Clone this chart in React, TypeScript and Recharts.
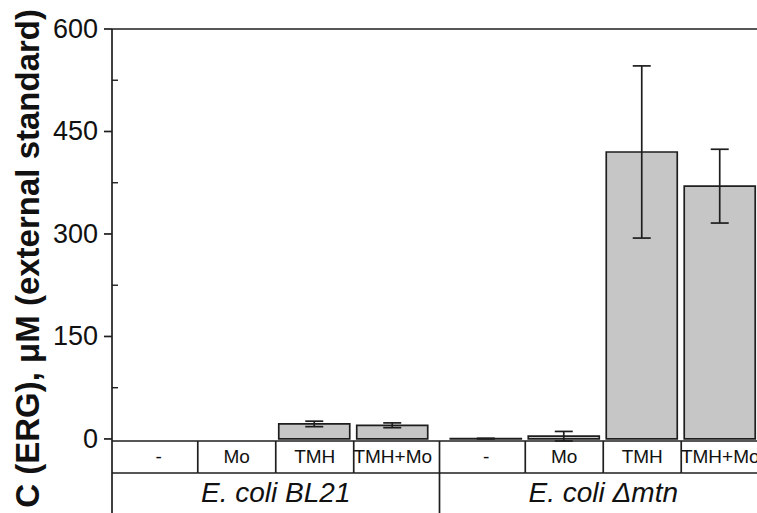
import { BarChart, Bar, XAxis, YAxis, ErrorBar, ReferenceLine } from 'recharts'

const treatments = ['-', 'Mo', 'TMH', 'TMH+Mo']
const strains = ['E. coli BL21', 'E. coli Δmtn']
const ergBL21 = [0, 0, 22, 20]
const errBL21 = [0, 0, 4, 3.5]
const ergMtn = [0.5, 4, 420, 370]
const errMtn = [0.5, 7, 126, 54]
const majorTicks = [0, 150, 300, 450, 600]
const minorTicks = [75, 225, 375, 525]
const yLabel = 'C (ERG), μM (external standard)'

const GROUP_GAP = 0.2
const X_DOMAIN: [number, number] = [-0.6, 7.8]

// chart geometry
const W = 800
const H = 540
const TOP = 29
const LEFT = 112
const RIGHT = 33
const PLOT_W = W - LEFT - RIGHT
const PX = PLOT_W / (X_DOMAIN[1] - X_DOMAIN[0])
const Y0 = 441
const ROW1 = 32
const INK = '#1e1e1e'
const LW = 1.7
const FONT = '"Liberation Sans", Arial, sans-serif'

const series = [ergBL21, ergMtn]
const errors = [errBL21, errMtn]
const rows = strains.flatMap((s, g) =>
  treatments.map((t, i) => ({
    x: g * (treatments.length + GROUP_GAP) + i,
    treatment: t,
    strain: s,
    group: g,
    idx: i,
    erg: series[g][i],
    err: errors[g][i],
  }))
)
const positions = rows.map(r => r.x)

function XTick(props: any) {
  const { x, payload, index } = props
  const row = rows[index]
  if (!row) return null
  const toPx = (v: number) => x + (v - payload.value) * PX
  const left = index === 0 ? LEFT : toPx((positions[index - 1] + row.x) / 2)
  const right = index === rows.length - 1 ? LEFT + PLOT_W : toPx((positions[index + 1] + row.x) / 2)
  const last = row.idx === treatments.length - 1
  return (
    <g>
      <text x={x} y={Y0 + 22} textAnchor="middle" fontSize={19} fontFamily={FONT} fill="#111">
        {row.treatment}
      </text>
      <line x1={left} x2={right} y1={Y0 + ROW1} y2={Y0 + ROW1} stroke={INK} strokeWidth={LW} />
      {index === 0 && <line x1={left} x2={left} y1={Y0} y2={H} stroke={INK} strokeWidth={LW} />}
      <line x1={right} x2={right} y1={Y0} y2={last ? H : Y0 + ROW1} stroke={INK} strokeWidth={LW} />
      {row.idx === 1 && (
        <text
          x={(x + toPx(positions[index + 1])) / 2}
          y={Y0 + ROW1 + 29}
          textAnchor="middle"
          fontSize={28}
          fontStyle="italic"
          fontFamily={FONT}
          fill="#111"
        >
          {row.strain}
        </text>
      )}
    </g>
  )
}

function YTick(props: any) {
  const { y, payload } = props
  const v = payload.value
  if (majorTicks.includes(v)) {
    return (
      <g>
        <line x1={LEFT - 8} x2={LEFT} y1={y} y2={y} stroke={INK} strokeWidth={LW} />
        <text x={LEFT - 14} y={y + 9} textAnchor="end" fontSize={27} fontFamily={FONT} fill="#111">
          {v}
        </text>
      </g>
    )
  }
  return <line x1={LEFT} x2={LEFT + 6} y1={y} y2={y} stroke={INK} strokeWidth={1.4} />
}

export default function App() {
  return (
    <div style={{ position: 'absolute', left: 0, top: 0, width: 757, height: 513, overflow: 'hidden', background: '#fff' }}>
      <BarChart
        width={W}
        height={H}
        data={rows}
        margin={{ top: TOP, right: RIGHT, bottom: 0, left: 0 }}
        barSize={71}
      >
        <XAxis
          type="number"
          dataKey="x"
          domain={X_DOMAIN}
          ticks={positions}
          interval={0}
          height={H - Y0}
          tickLine={false}
          tickSize={0}
          tickMargin={0}
          axisLine={{ stroke: INK, strokeWidth: LW }}
          tick={<XTick />}
        />
        <YAxis
          type="number"
          domain={[0, 600]}
          ticks={[...majorTicks, ...minorTicks].sort((a, b) => a - b)}
          interval={0}
          width={LEFT}
          tickLine={false}
          axisLine={{ stroke: INK, strokeWidth: LW }}
          tick={<YTick />}
        />
        <ReferenceLine y={600} stroke={INK} strokeWidth={LW} ifOverflow="visible" />
        <Bar dataKey="erg" fill="#c6c6c6" stroke={INK} strokeWidth={LW} isAnimationActive={false}>
          <ErrorBar dataKey="err" width={9} stroke={INK} strokeWidth={LW} />
        </Bar>
      </BarChart>
      <svg width={60} height={513} style={{ position: 'absolute', left: 0, top: 0 }}>
        <text
          x={39}
          y={9}
          transform="rotate(-90, 39, 9)"
          textAnchor="end"
          fontSize={33}
          fontWeight="bold"
          fontFamily={FONT}
          fill="#111"
        >
          {yLabel}
        </text>
      </svg>
    </div>
  )
}
